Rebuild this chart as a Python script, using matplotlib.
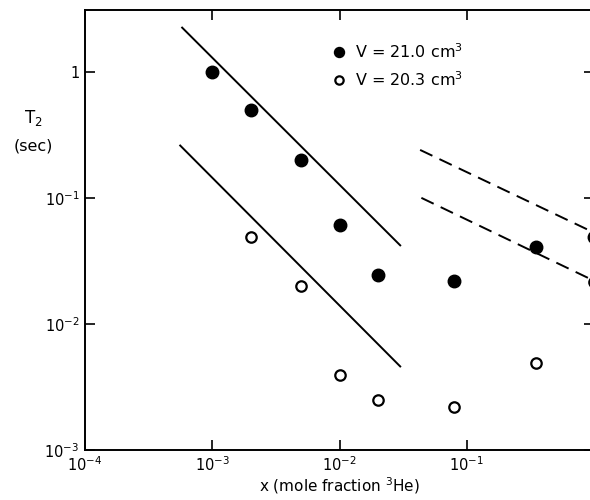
import matplotlib
matplotlib.use('Agg')
import matplotlib.pyplot as plt
import numpy as np

# data
x_filled = [1e-3, 2e-3, 5e-3, 1e-2, 2e-2, 8e-2, 0.35, 1.0]
t2_filled = [1.0, 0.5, 0.2, 0.061, 0.0245, 0.022, 0.041, 0.049]
x_open = [2e-3, 5e-3, 1e-2, 2e-2, 8e-2, 0.35, 1.0]
t2_open = [0.049, 0.020, 0.0039, 0.0025, 0.0022, 0.0049, 0.0215]

# guide lines (end points)
solid_up_x, solid_up_y = [5.8e-4, 0.030], [2.24, 0.042]
solid_lo_x, solid_lo_y = [5.6e-4, 0.030], [0.26, 0.0046]
dash_up_x, dash_up_y = [0.043, 1.0], [0.24, 0.053]
dash_lo_x, dash_lo_y = [0.044, 1.0], [0.10, 0.022]

xticks = [1e-4, 1e-3, 1e-2, 1e-1]
xtick_labels = [r'$10^{-4}$', r'$10^{-3}$', r'$10^{-2}$', r'$10^{-1}$']
yticks = [1e-3, 1e-2, 1e-1, 1]
ytick_labels = [r'$10^{-3}$', r'$10^{-2}$', r'$10^{-1}$', '1']

plt.rcParams['font.family'] = ['DejaVu Sans']
plt.rcParams['mathtext.fontset'] = 'dejavusans'

fig = plt.figure(figsize=(5.9, 5.0), dpi=100)
ax = fig.add_axes([85/590, 50/500, (594-85)/590, 440/500])
ax.set_xscale('log')
ax.set_yscale('log')
ax.set_xlim(1e-4, 1.0)
ax.set_ylim(1e-3, 10**0.49)

ax.plot(solid_up_x, solid_up_y, color='black', lw=1.4)
ax.plot(solid_lo_x, solid_lo_y, color='black', lw=1.4)
ax.plot(dash_up_x, dash_up_y, color='black', lw=1.4, dashes=(7, 4))
ax.plot(dash_lo_x, dash_lo_y, color='black', lw=1.4, dashes=(7, 4))

h1, = ax.plot(x_filled, t2_filled, 'o', color='black', ms=9, ls='none',
              clip_on=False, label='V = 21.0 cm$^3$')
h2, = ax.plot(x_open, t2_open, 'o', mfc='white', mec='black', mew=1.6, ms=7.5,
              ls='none', clip_on=False, label='V = 20.3 cm$^3$')

leg = ax.legend(handles=[h1, h2], loc='upper left', bbox_to_anchor=(0.455, 0.96),
                frameon=False, fontsize=11.5, markerscale=0.8, handlelength=1.0,
                handletextpad=0.5, labelspacing=0.6)

ax.set_xticks(xticks)
ax.set_xticklabels(xtick_labels)
ax.set_yticks(yticks)
ax.set_yticklabels(ytick_labels)
ax.minorticks_off()
ax.tick_params(which='both', direction='in', length=7, width=1.2,
               top=True, right=True, labelsize=10.5, pad=4)
for s in ax.spines.values():
    s.set_linewidth(1.4)

ax.set_xlabel('x (mole fraction $^3$He)', fontsize=11, labelpad=1)
fig.text(33/590, 1 - 118/500, 'T$_2$', fontsize=12, ha='center', va='center')
fig.text(33/590, 1 - 146/500, '(sec)', fontsize=11.5, ha='center', va='center')

fig.savefig('out.png', dpi=100)
